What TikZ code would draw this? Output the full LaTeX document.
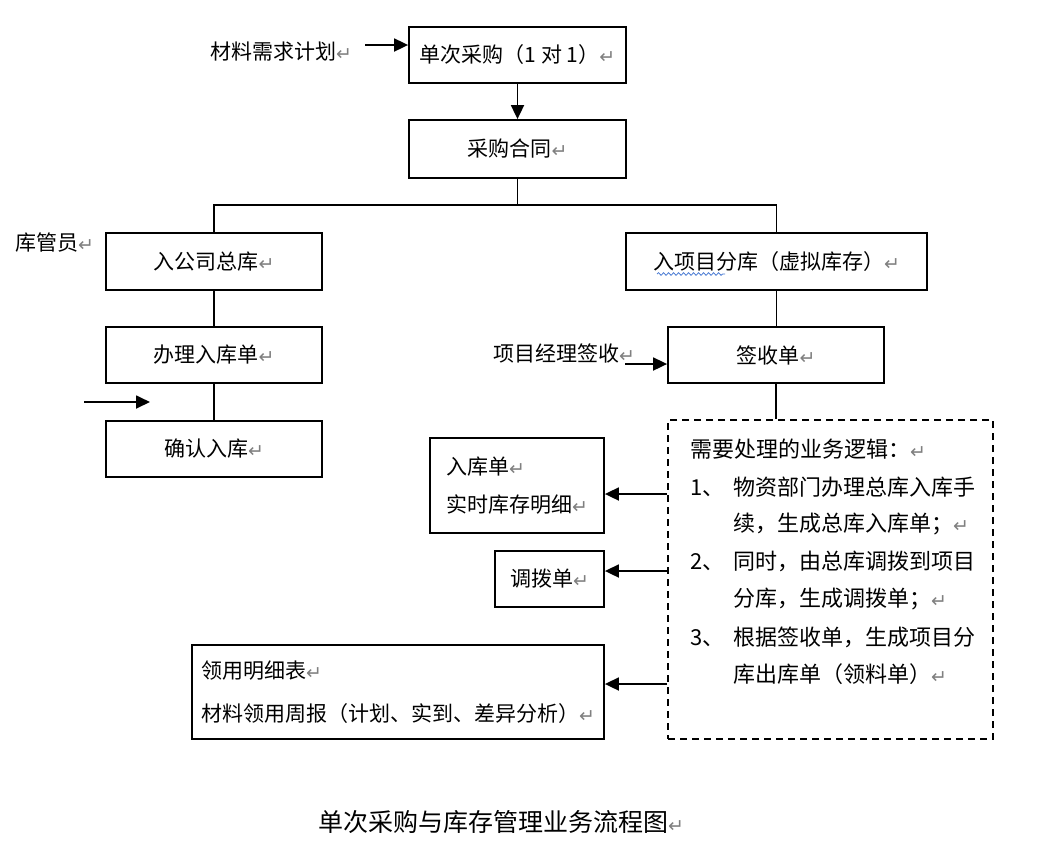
\documentclass[tikz,border=0pt]{standalone}
\usepackage{fontspec}
\setmainfont{Noto Sans CJK SC}
\newfontfamily\dejavu{DejaVu Sans}
\usetikzlibrary{arrows.meta,decorations.pathmorphing}
\definecolor{wavy}{RGB}{70,120,210}
\newcommand\rt{{\dejavu\fontsize{19}{19}\selectfont\color{gray}\raisebox{-1pt}{↵}}}
\begin{document}
\begin{tikzpicture}[x=1pt,y=-1pt,
  font=\fontsize{21}{38}\selectfont,
  box/.style={draw,line width=1.8pt,inner sep=0pt},
  dbox/.style={draw,line width=1.6pt,dash pattern=on 7pt off 5pt,inner sep=0pt},
  lbl/.style={anchor=west,inner sep=0pt},
  ltx/.style={anchor=west,inner sep=0pt,font=\fontsize{22}{38}\selectfont},
  ln/.style={line width=1.8pt},
  arr/.style={line width=1.8pt,-{Triangle[length=14pt,width=13pt]}}]
\useasboundingbox[fill=white] (0,0) rectangle (1040,852);
% boxes
\node[box,minimum width=217,minimum height=56] (b1) at (517.5,55) {单次采购（1 对 1）\rt};
\node[box,minimum width=217,minimum height=58] (b2) at (517.5,149) {采购合同\rt};
\node[box,minimum width=216,minimum height=57] (bL) at (214,261.5) {入公司总库\rt};
\node[box,minimum width=301,minimum height=57] (bR) at (776.5,261.5) {入项目分库（虚拟库存）\rt};
\node[box,minimum width=216,minimum height=56] (bBan) at (214,355) {办理入库单\rt};
\node[box,minimum width=216,minimum height=56] (bQue) at (214,449) {确认入库\rt};
\node[box,minimum width=216,minimum height=56] (bQian) at (776,355) {签收单\rt};
\node[dbox,minimum width=325,minimum height=319] (logic) at (830.5,579.5) {};
\node[box,minimum width=174,minimum height=95,align=left] (bRK) at (517,485.5) {入库单\rt\\实时库存明细\rt};
\node[box,minimum width=109,minimum height=56] (bDB) at (549.5,579) {调拨单\rt};
\node[box,minimum width=412,minimum height=94,align=left,font=\fontsize{21}{43}\selectfont] (bLY) at (398,692) {领用明细表\rt\\材料领用周报（计划、实到、差异分析）\rt};
% outside labels
\node[lbl] (mreq) at (210,52) {材料需求计划\rt};
\node[lbl] (kgy) at (15,243) {库管员\rt};
\node[lbl] (xmjl) at (493,353) {项目经理签收\rt};
\node[lbl,font=\fontsize{25}{30}\selectfont] (cap) at (318,822) {单次采购与库存管理业务流程图\rt};
% logic text
\node[ltx] (t0) at (690,449) {需要处理的业务逻辑：\rt};
\node[ltx] (t1) at (690,487) {\makebox[43pt][l]{1、}物资部门办理总库入库手};
\node[ltx] (t1b) at (733,524) {续，生成总库入库单；\rt};
\node[ltx] (t2) at (690,561) {\makebox[43pt][l]{2、}同时，由总库调拨到项目};
\node[ltx] (t2b) at (733,599) {分库，生成调拨单；\rt};
\node[ltx] (t3) at (690,637) {\makebox[43pt][l]{3、}根据签收单，生成项目分};
\node[ltx] (t3b) at (733,674) {库出库单（领料单）\rt};
% wavy spell mark
\draw[decorate,decoration={snake,amplitude=1.3pt,segment length=5pt},color=wavy,line width=0.8pt] (657,274) -- (725,274);
% connectors
\coordinate (m0) at (365,45);
\draw[arr] (m0) -- (m0 -| b1.west);
\draw[arr] (b1.south) -- (b2.north);
\coordinate (sp) at (517.5,205);
\draw[ln] (b2.south) -- (sp);
\draw[ln] (bL.north) |- (sp) -| (bR.north);
\draw[ln] (bL.south) -- (bBan.north);
\draw[ln] (bBan.south) -- (bQue.north);
\coordinate (k0) at (84,402);
\coordinate (k1) at (150,402);
\draw[arr] (k0) -- (k1);
\draw[ln] (bR.south) -- (bR.south |- bQian.north);
\coordinate (q0) at (625,364);
\draw[arr] (q0) -- (q0 -| bQian.west);
\draw[ln] (bQian.south) -- (bQian.south |- logic.north);
\coordinate (r1) at (668,494);
\coordinate (r2) at (668,571);
\coordinate (r3) at (668,684);
\draw[arr] (logic.west |- r1) -- (r1 -| bRK.east);
\draw[arr] (logic.west |- r2) -- (r2 -| bDB.east);
\draw[arr] (logic.west |- r3) -- (r3 -| bLY.east);
\end{tikzpicture}
\end{document}
